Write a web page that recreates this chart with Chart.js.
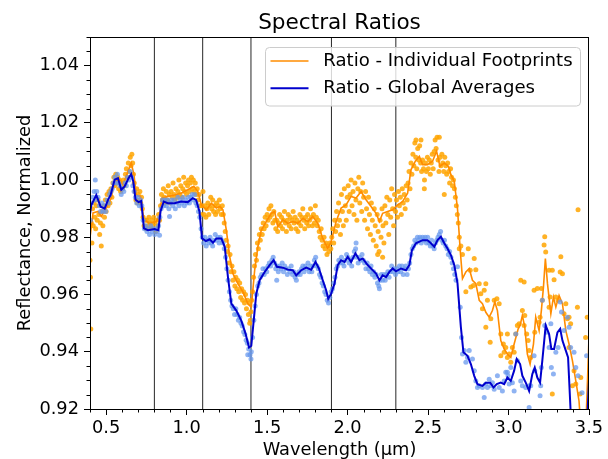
<!DOCTYPE html>
<html><head><meta charset="utf-8">
<script src="https://cdn.jsdelivr.net/npm/chart.js@4/dist/chart.umd.min.js"></script>
<style>html,body{margin:0;padding:0;background:#fff}canvas{display:block}</style>
</head><body>
<canvas id="c" width="608" height="459"></canvas>
<script>
const titleText = 'Spectral Ratios';
const xLabel = 'Wavelength (μm)';
const yLabel = 'Reflectance, Normalized';
const seriesNames = ['Ratio - Individual Footprints', 'Ratio - Global Averages'];
const xTicks = [0.5, 1.0, 1.5, 2.0, 2.5, 3.0, 3.5];
const yTicks = [0.92, 0.94, 0.96, 0.98, 1.00, 1.02, 1.04];
const xRange = [0.4, 3.5];
const yRange = [0.92, 1.05];
const bandEdges = [0.8, 1.1, 1.4, 1.9, 2.3];

const orangeLine = [
[0.400,0.980],[0.419,0.9885],[0.450,0.9890],[0.470,0.9873],[0.501,0.9902],[0.532,0.9937],[0.553,0.9995],[0.584,1.0001],[0.605,0.9984],[0.636,1.0030],[0.656,1.0060],[0.673,1.0019],[0.687,0.9948],[0.714,0.9943],[0.735,0.9861],[0.770,0.9849],[0.811,0.9855],[0.832,0.9878],[0.846,0.9937],[0.883,0.9943],[0.925,0.9948],[0.966,0.9954],[1.007,0.9966],[1.045,0.9978],[1.070,0.9960],[1.092,0.9913],[1.123,0.9896],[1.154,0.9919],[1.185,0.9902],[1.206,0.9908],[1.226,0.9896],[1.247,0.9825],[1.268,0.9732],[1.288,0.9673],[1.319,0.9638],[1.350,0.9609],[1.381,0.9568],[1.402,0.9556],[1.423,0.9685],[1.443,0.9767],[1.464,0.9825],[1.495,0.9855],[1.526,0.9884],[1.547,0.9890],[1.567,0.9837],[1.598,0.9861],[1.629,0.9849],[1.660,0.9855],[1.691,0.9849],[1.722,0.9866],[1.753,0.9855],[1.784,0.9873],[1.815,0.9849],[1.846,0.9796],[1.877,0.9761],[1.898,0.9785],[1.929,0.9855],[1.960,0.9902],[1.991,0.9913],[2.022,0.9943],[2.053,0.9937],[2.084,0.9960],[2.115,0.9931],[2.146,0.9908],[2.177,0.9884],[2.198,0.9855],[2.218,0.9884],[2.249,0.9890],[2.280,0.9896],[2.311,0.9913],[2.342,0.9925],[2.373,0.9954],[2.394,1.0036],[2.421,1.0066],[2.446,1.0083],[2.466,1.0054],[2.497,1.0054],[2.528,1.0066],[2.553,1.0101],[2.574,1.0048],[2.601,1.0060],[2.627,1.0048],[2.642,1.0019],[2.663,0.9995],[2.683,0.9900],[2.700,0.9755],[2.714,0.9656],[2.735,0.9679],[2.756,0.9691],[2.776,0.9650],[2.797,0.9638],[2.818,0.9580],[2.838,0.9568],[2.859,0.9538],[2.880,0.9521],[2.900,0.9544],[2.915,0.9574],[2.931,0.9544],[2.952,0.9439],[2.973,0.9410],[2.993,0.9392],[3.014,0.9380],[3.035,0.9427],[3.060,0.9480],[3.072,0.9492],[3.086,0.9527],[3.101,0.9486],[3.117,0.9392],[3.134,0.9357],[3.155,0.9427],[3.169,0.9521],[3.190,0.9474],[3.204,0.9544],[3.217,0.9626],[3.229,0.9726],[3.242,0.9638],[3.263,0.9533],[3.279,0.9591],[3.294,0.9556],[3.314,0.9597],[3.335,0.9568],[3.356,0.9474],[3.376,0.9427],[3.397,0.9369],[3.418,0.9298],[3.438,0.9228],[3.460,0.905],[3.475,0.905],[3.500,0.945]
];

const blueLine = [
[0.400,0.988],[0.408,0.9913],[0.439,0.9948],[0.466,0.9907],[0.491,0.9900],[0.512,0.9931],[0.528,0.9948],[0.553,1.0001],[0.574,1.0007],[0.594,0.9966],[0.615,0.9978],[0.640,1.0007],[0.656,1.0021],[0.669,0.9995],[0.683,0.9931],[0.702,0.9923],[0.718,0.9927],[0.735,0.9831],[0.760,0.9825],[0.800,0.9829],[0.825,0.9825],[0.838,0.9890],[0.858,0.9925],[0.883,0.9919],[0.925,0.9919],[0.966,0.9925],[1.007,0.9923],[1.038,0.9937],[1.059,0.9931],[1.080,0.9890],[1.096,0.9796],[1.120,0.9787],[1.144,0.9793],[1.164,0.9781],[1.185,0.9796],[1.216,0.9796],[1.237,0.9767],[1.257,0.9661],[1.278,0.9568],[1.309,0.9544],[1.340,0.9509],[1.367,0.9462],[1.388,0.9415],[1.402,0.9421],[1.417,0.9509],[1.433,0.9603],[1.454,0.9650],[1.485,0.9679],[1.516,0.9703],[1.541,0.9720],[1.561,0.9697],[1.598,0.9694],[1.629,0.9687],[1.660,0.9685],[1.681,0.9667],[1.712,0.9685],[1.743,0.9694],[1.774,0.9687],[1.801,0.9714],[1.822,0.9691],[1.846,0.9650],[1.867,0.9615],[1.880,0.9585],[1.898,0.9603],[1.919,0.9638],[1.939,0.9703],[1.960,0.9720],[1.981,0.9714],[2.001,0.9732],[2.022,0.9714],[2.049,0.9744],[2.074,0.9720],[2.094,0.9726],[2.125,0.9703],[2.146,0.9691],[2.177,0.9673],[2.198,0.9650],[2.218,0.9667],[2.239,0.9661],[2.260,0.9679],[2.280,0.9691],[2.301,0.9681],[2.332,0.9691],[2.363,0.9685],[2.384,0.9703],[2.400,0.9755],[2.425,0.9779],[2.466,0.9790],[2.497,0.9790],[2.518,0.9779],[2.539,0.9767],[2.559,0.9790],[2.580,0.9802],[2.601,0.9779],[2.621,0.9761],[2.642,0.9738],[2.663,0.9703],[2.683,0.9640],[2.704,0.9486],[2.720,0.9398],[2.745,0.9386],[2.766,0.9357],[2.787,0.9316],[2.807,0.9287],[2.838,0.9281],[2.859,0.9292],[2.886,0.9292],[2.907,0.9275],[2.927,0.9287],[2.952,0.9292],[2.973,0.9287],[2.993,0.9310],[3.014,0.9298],[3.035,0.9334],[3.051,0.9375],[3.072,0.9357],[3.086,0.9316],[3.107,0.9292],[3.128,0.9263],[3.148,0.9322],[3.163,0.9345],[3.179,0.9310],[3.196,0.9292],[3.210,0.9369],[3.231,0.9492],[3.252,0.9462],[3.266,0.9410],[3.283,0.9410],[3.304,0.9468],[3.321,0.9480],[3.335,0.9439],[3.356,0.9404],[3.370,0.9380],[3.386,0.919],[3.400,0.905],[3.480,0.905],[3.500,0.930]
];

const orangeDots = [
[0.400,0.972],[0.403,0.966],[0.405,0.948],[0.408,0.985],[0.412,0.978],[0.416,0.990],[0.420,0.984],[0.425,0.992],[0.430,0.987],[0.435,0.983],[0.440,0.991],[0.445,0.986],[0.450,0.993],[0.455,0.988],[0.460,0.981],[0.465,0.985],[0.470,0.977],[0.475,0.989],[0.480,0.984],[0.485,0.991],[0.490,0.987],[0.495,0.993],[0.500,0.989],[0.506,0.995],[0.512,0.991],[0.518,0.996],[0.524,0.992],[0.530,0.997],[0.536,0.994],[0.542,0.999],[0.548,1.001],[0.554,0.998],[0.560,1.002],[0.566,0.999],[0.572,1.001],[0.578,0.997],[0.584,1.000],[0.590,0.996],[0.596,0.999],[0.602,0.997],[0.608,1.000],[0.614,0.998],[0.620,1.002],[0.626,1.004],[0.632,1.001],[0.638,1.006],[0.644,1.003],[0.650,1.008],[0.655,1.005],[0.660,1.009],[0.665,1.006],[0.670,1.002],[0.675,0.999],[0.680,0.996],[0.685,0.993],[0.690,0.997],[0.695,0.992],[0.700,0.995],[0.705,0.993],[0.710,0.996],[0.715,0.992],[0.720,0.994],[0.725,0.990],
[0.730,0.987],[0.736,0.984],[0.742,0.986],[0.748,0.983],[0.754,0.986],[0.760,0.984],[0.766,0.987],[0.772,0.985],[0.778,0.983],[0.784,0.986],[0.790,0.984],[0.796,0.987],[0.802,0.985],[0.808,0.982],[0.814,0.986],[0.820,0.984],[0.826,0.988],[0.832,0.986],[0.838,0.991],[0.844,0.995],[0.850,0.993],[0.856,0.997],[0.862,0.994],[0.868,0.992],[0.874,0.996],[0.880,0.993],[0.886,0.998],[0.892,0.995],[0.898,0.992],[0.904,0.996],[0.910,0.994],[0.916,0.999],[0.922,0.995],[0.928,0.993],[0.934,0.997],[0.940,0.994],[0.946,0.996],[0.952,1.000],[0.958,0.995],[0.964,0.998],[0.970,0.994],[0.976,0.997],[0.982,1.001],[0.988,0.996],[0.994,0.999],[1.000,0.995],[1.006,0.998],[1.012,1.000],[1.018,0.996],[1.024,0.999],[1.030,1.001],[1.036,0.997],[1.042,1.000],[1.048,0.996],[1.054,0.999],[1.060,0.995],[1.066,0.997],[1.072,0.993],[1.078,0.995],[1.084,0.991],[1.090,0.988],[1.096,0.991],[1.102,0.996],[1.108,0.988],[1.114,0.991],[1.120,0.987],[1.126,0.990],[1.132,0.992],[1.138,0.988],[1.144,0.991],[1.150,0.994],[1.156,0.990],[1.162,0.993],[1.168,0.989],[1.174,0.991],[1.180,0.988],[1.186,0.992],[1.192,0.989],[1.198,0.991],[1.204,0.993],[1.210,0.990],[1.216,0.988],[1.222,0.991],[1.228,0.988],[1.234,0.985],[1.240,0.982],
[1.246,0.979],[1.252,0.975],[1.258,0.977],[1.264,0.971],[1.270,0.974],[1.276,0.968],[1.282,0.970],[1.288,0.965],[1.294,0.968],[1.300,0.963],[1.306,0.966],[1.312,0.962],[1.318,0.965],[1.324,0.961],[1.330,0.964],[1.336,0.959],[1.342,0.962],[1.348,0.958],[1.354,0.961],[1.360,0.957],[1.366,0.960],[1.372,0.955],[1.378,0.958],[1.384,0.953],[1.390,0.957],[1.392,0.950],[1.396,0.951],[1.400,0.954],[1.404,0.958],[1.410,0.961],[1.416,0.966],[1.422,0.970],[1.428,0.974],[1.434,0.972],[1.440,0.978],[1.446,0.976],[1.452,0.981],[1.458,0.979],[1.464,0.983],[1.470,0.981],[1.476,0.985],[1.482,0.983],[1.488,0.987],[1.494,0.984],[1.500,0.988],[1.506,0.986],[1.512,0.990],[1.518,0.987],[1.524,0.991],[1.530,0.988],[1.536,0.985],[1.542,0.989],[1.548,0.986],[1.554,0.983],[1.560,0.986],[1.566,0.982],[1.572,0.985],[1.578,0.988],[1.584,0.984],[1.590,0.987],[1.596,0.983],[1.602,0.986],[1.608,0.989],[1.614,0.985],[1.620,0.982],[1.626,0.986],[1.632,0.988],[1.638,0.984],[1.644,0.987],[1.650,0.983],[1.656,0.986],[1.662,0.989],[1.668,0.985],[1.674,0.987],[1.680,0.983],[1.686,0.986],[1.692,0.982],[1.698,0.985],[1.704,0.988],[1.710,0.984],[1.716,0.987],[1.722,0.990],[1.728,0.986],[1.734,0.983],[1.740,0.987],[1.746,0.985],[1.752,0.988],[1.758,0.984],[1.764,0.986],[1.770,0.990],[1.776,0.987],[1.782,0.984],[1.788,0.988],[1.794,0.985],[1.800,0.991],[1.806,0.987],[1.812,0.984],[1.818,0.986],[1.824,0.982],[1.830,0.980],[1.836,0.983],[1.842,0.979],[1.848,0.977],[1.854,0.980],[1.860,0.976],[1.866,0.978],[1.872,0.974],[1.878,0.977],[1.884,0.975],[1.890,0.978],[1.896,0.976],
[1.902,0.980],[1.908,0.983],[1.914,0.978],[1.920,0.986],[1.926,0.982],[1.932,0.989],[1.938,0.984],[1.944,0.992],[1.950,0.986],[1.956,0.981],[1.962,0.995],[1.968,0.989],[1.974,0.984],[1.980,0.997],[1.986,0.991],[1.992,0.986],[1.998,0.994],[2.004,0.998],[2.010,0.989],[2.016,0.995],[2.022,1.000],[2.028,0.991],[2.034,0.996],[2.040,0.988],[2.046,0.999],[2.052,0.993],[2.058,0.986],[2.064,0.997],[2.070,1.001],[2.076,0.992],[2.082,0.996],[2.088,0.989],[2.094,0.999],[2.100,0.994],[2.106,0.986],[2.112,0.996],[2.118,0.990],[2.124,0.983],[2.130,0.994],[2.136,0.988],[2.142,0.981],[2.148,0.992],[2.154,0.986],[2.160,0.979],[2.166,0.990],[2.172,0.984],[2.178,0.977],[2.184,0.988],[2.187,0.974],[2.190,0.982],[2.196,0.975],[2.202,0.986],[2.208,0.980],[2.214,0.990],[2.218,0.973],[2.220,0.984],[2.226,0.978],[2.232,0.991],[2.238,0.985],[2.244,0.994],[2.250,0.988],[2.256,0.981],[2.262,0.993],[2.268,0.987],[2.274,0.997],[2.280,0.990],[2.286,0.984],[2.292,0.995],[2.298,0.989],[2.304,0.993],[2.310,0.987],[2.316,0.996],[2.322,0.991],[2.328,0.994],[2.334,0.988],[2.340,0.997],[2.346,0.992],[2.352,0.995],[2.358,0.990],[2.364,0.998],[2.370,0.993],[2.376,0.999],[2.382,1.003],[2.388,0.997],[2.394,1.006],[2.400,1.002],[2.406,1.009],[2.412,1.005],[2.418,1.013],[2.424,1.008],[2.425,1.014],[2.430,1.004],[2.436,1.011],[2.442,1.007],[2.448,1.012],[2.454,1.006],[2.456,1.014],[2.460,1.003],[2.466,1.007],[2.472,1.004],[2.477,0.997],[2.478,1.000],[2.484,1.006],[2.490,1.003],[2.496,1.008],[2.502,1.004],[2.508,1.007],[2.514,1.002],[2.520,1.006],[2.526,1.009],[2.532,1.004],[2.538,1.010],[2.544,1.014],[2.550,1.011],[2.556,1.015],[2.562,1.007],[2.568,1.003],[2.570,1.015],[2.574,1.008],[2.580,1.005],[2.586,1.009],[2.592,1.006],[2.598,1.003],[2.601,0.995],[2.604,1.008],[2.610,1.005],[2.616,1.002],[2.622,1.006],[2.628,1.003],[2.634,0.999],[2.640,1.004],[2.646,1.001],[2.652,0.998],[2.658,1.000],[2.664,0.997],[2.670,0.994],[2.676,0.991],[2.682,0.988],[2.688,0.985],[2.694,0.980],
[2.694,0.976],[2.704,0.977],[2.714,0.974],[2.750,0.976],[2.735,0.961],[2.762,0.9685],[2.787,0.9726],[2.797,0.9687],[2.766,0.9626],[2.782,0.9632],[2.818,0.9638],[2.828,0.9603],[2.849,0.9615],[2.859,0.9638],[2.869,0.958],[2.838,0.955],[2.859,0.9486],[2.886,0.9433],[2.890,0.9515],[2.911,0.958],[2.928,0.9585],[2.942,0.9568],[2.952,0.9462],[2.968,0.9427],[2.983,0.9415],[2.993,0.9462],[3.004,0.9392],[3.024,0.9415],[3.045,0.9462],[3.055,0.9492],[3.066,0.9498],[3.086,0.9544],[3.101,0.9527],[3.113,0.9462],[3.076,0.965],[3.097,0.9644],[3.128,0.9404],[3.138,0.938],[3.159,0.9615],[3.179,0.9621],[3.163,0.9468],[3.190,0.9503],[3.204,0.9621],[3.221,0.9773],[3.225,0.9802],[3.231,0.9749],[3.252,0.9685],[3.272,0.9685],[3.283,0.9652],[3.258,0.9591],[3.325,0.9732],[3.321,0.9679],[3.335,0.9673],[3.345,0.9533],[3.366,0.9515],[3.376,0.9521],[3.428,0.9556],[3.432,0.9896],[3.407,0.9334],[3.397,0.9281],[3.418,0.9287],[3.449,0.931],[3.272,0.9252],[3.444,0.9252],[3.489,0.9521],[3.479,0.945],[2.993,0.938],[2.952,0.9386],[2.973,0.9398],[3.014,0.9363],[3.035,0.9398],[3.097,0.9492],[3.122,0.9439],[3.196,0.9521],[3.210,0.958],[3.252,0.9556],[3.294,0.9591],[3.308,0.958],[3.356,0.9568],[3.386,0.9498],[3.376,0.9415]
];

const blueDots = [
[0.402,0.986],[0.410,0.992],[0.418,0.994],[0.426,0.996],[0.433,1.000],[0.434,0.993],[0.442,0.996],[0.450,0.994],[0.458,0.991],[0.466,0.989],[0.474,0.992],[0.482,0.989],[0.490,0.991],[0.498,0.989],[0.506,0.993],[0.514,0.992],[0.522,0.995],[0.530,0.996],[0.538,0.997],[0.546,0.999],[0.554,1.001],[0.562,0.999],[0.570,1.002],[0.578,0.999],[0.586,0.998],[0.594,0.995],[0.602,0.997],[0.610,0.996],[0.618,0.999],[0.626,0.998],[0.634,1.001],[0.642,1.000],[0.650,1.003],[0.658,1.001],[0.666,0.998],[0.674,0.996],[0.682,0.994],[0.690,0.992],[0.698,0.994],[0.706,0.991],[0.714,0.993],[0.722,0.991],[0.730,0.986],[0.738,0.983],[0.746,0.984],[0.754,0.982],[0.762,0.983],[0.770,0.981],[0.778,0.984],[0.786,0.982],[0.794,0.983],[0.802,0.981],[0.810,0.983],[0.818,0.982],[0.826,0.984],[0.832,0.9807],[0.834,0.987],[0.842,0.990],[0.850,0.993],[0.858,0.991],[0.866,0.993],[0.874,0.991],[0.882,0.993],[0.890,0.990],[0.894,0.9873],[0.898,0.992],[0.906,0.993],[0.914,0.991],[0.922,0.993],[0.930,0.990],[0.938,0.992],[0.946,0.994],[0.954,0.991],[0.962,0.993],[0.970,0.992],[0.978,0.994],[0.986,0.991],[0.994,0.993],[1.002,0.992],[1.010,0.994],[1.018,0.992],[1.026,0.994],[1.034,0.995],[1.042,0.993],[1.050,0.995],[1.058,0.992],[1.066,0.991],[1.074,0.989],[1.082,0.987],[1.090,0.983],[1.098,0.980],
[1.106,0.978],[1.114,0.980],[1.122,0.977],[1.130,0.979],[1.138,0.978],[1.146,0.980],[1.154,0.978],[1.162,0.977],[1.170,0.979],[1.178,0.981],[1.186,0.979],[1.194,0.980],[1.202,0.978],[1.210,0.980],[1.218,0.979],[1.226,0.978],[1.234,0.976],[1.242,0.973],[1.250,0.969],[1.258,0.965],[1.266,0.961],[1.274,0.958],[1.282,0.956],[1.290,0.955],[1.298,0.953],[1.306,0.955],[1.314,0.953],[1.322,0.951],[1.330,0.952],[1.338,0.950],[1.346,0.949],[1.354,0.947],[1.362,0.946],[1.370,0.944],[1.378,0.943],[1.380,0.939],[1.386,0.941],[1.394,0.939],[1.400,0.9375],[1.402,0.940],[1.410,0.945],[1.418,0.951],[1.426,0.956],[1.434,0.960],[1.442,0.963],[1.450,0.964],[1.458,0.966],[1.466,0.967],[1.474,0.969],[1.482,0.967],[1.490,0.969],[1.498,0.968],[1.506,0.970],[1.514,0.971],[1.522,0.970],[1.530,0.972],[1.538,0.973],[1.546,0.971],[1.554,0.969],[1.560,0.965],[1.562,0.970],[1.570,0.968],[1.578,0.970],[1.586,0.969],[1.594,0.971],[1.602,0.968],[1.610,0.970],[1.618,0.969],[1.626,0.967],[1.634,0.969],[1.642,0.968],[1.650,0.970],[1.658,0.967],[1.666,0.968],[1.674,0.966],[1.682,0.965],[1.690,0.967],[1.698,0.968],[1.706,0.967],[1.714,0.969],[1.722,0.970],[1.730,0.968],[1.738,0.970],[1.746,0.969],[1.754,0.971],[1.762,0.968],[1.770,0.970],[1.778,0.968],[1.786,0.970],[1.794,0.972],[1.802,0.973],[1.810,0.970],[1.818,0.969],[1.826,0.967],[1.834,0.966],[1.842,0.964],[1.850,0.963],[1.858,0.961],[1.866,0.960],[1.874,0.958],[1.882,0.957],[1.890,0.959],[1.898,0.961],
[1.906,0.962],[1.914,0.964],[1.922,0.966],[1.930,0.969],[1.938,0.970],[1.946,0.972],[1.954,0.971],[1.962,0.973],[1.970,0.971],[1.978,0.970],[1.986,0.972],[1.994,0.974],[2.002,0.973],[2.010,0.971],[2.018,0.972],[2.026,0.970],[2.034,0.973],[2.042,0.975],[2.050,0.976],[2.053,0.978],[2.058,0.973],[2.066,0.971],[2.074,0.973],[2.082,0.972],[2.090,0.974],[2.098,0.972],[2.106,0.971],[2.114,0.969],[2.122,0.971],[2.130,0.969],[2.138,0.968],[2.146,0.970],[2.154,0.967],[2.162,0.968],[2.170,0.966],[2.178,0.967],[2.186,0.964],[2.194,0.963],[2.198,0.962],[2.202,0.965],[2.210,0.967],[2.218,0.965],[2.226,0.967],[2.234,0.965],[2.242,0.967],[2.250,0.968],[2.258,0.966],[2.266,0.968],[2.274,0.970],[2.282,0.968],[2.290,0.969],[2.298,0.967],[2.306,0.969],[2.314,0.968],[2.322,0.970],[2.330,0.968],[2.338,0.970],[2.346,0.967],[2.354,0.969],[2.362,0.970],[2.370,0.967],[2.378,0.969],[2.386,0.971],[2.394,0.974],[2.402,0.976],[2.410,0.977],[2.418,0.979],[2.426,0.978],[2.434,0.980],[2.442,0.979],[2.450,0.980],[2.458,0.978],[2.466,0.980],[2.474,0.979],[2.482,0.980],[2.490,0.978],[2.498,0.980],[2.506,0.978],[2.514,0.977],[2.522,0.979],[2.530,0.977],[2.538,0.976],[2.546,0.978],[2.554,0.979],[2.562,0.980],[2.570,0.981],[2.578,0.982],[2.586,0.979],[2.594,0.978],[2.602,0.979],[2.610,0.977],[2.618,0.976],[2.626,0.974],[2.634,0.975],[2.642,0.973],[2.650,0.971],[2.658,0.969],[2.666,0.967],[2.674,0.965],
[2.683,0.9697],[2.700,0.9556],[2.708,0.945],[2.714,0.9392],[2.725,0.9404],[2.735,0.9363],[2.745,0.938],[2.756,0.9404],[2.776,0.9375],[2.787,0.9334],[2.797,0.9298],[2.807,0.9275],[2.818,0.9281],[2.838,0.9275],[2.849,0.924],[2.859,0.9287],[2.869,0.9275],[2.880,0.9304],[2.890,0.9281],[2.900,0.9292],[2.911,0.9269],[2.931,0.9316],[2.942,0.9275],[2.962,0.9263],[2.973,0.9298],[2.983,0.9328],[2.993,0.9328],[2.997,0.9316],[3.004,0.9287],[3.014,0.9345],[3.024,0.9292],[3.035,0.9263],[3.045,0.9462],[3.055,0.9369],[3.076,0.9298],[3.086,0.9281],[3.107,0.9275],[3.128,0.9205],[3.128,0.9281],[3.138,0.9281],[3.159,0.9386],[3.163,0.9334],[3.196,0.9246],[3.200,0.9281],[3.204,0.9345],[3.210,0.958],[3.225,0.9492],[3.237,0.9468],[3.252,0.9415],[3.263,0.9498],[3.266,0.9345],[3.279,0.9322],[3.294,0.9398],[3.308,0.9415],[3.321,0.9574],[3.329,0.9539],[3.345,0.9474],[3.366,0.9521],[3.376,0.9486],[3.386,0.9415],[3.407,0.9398],[3.418,0.9345],[3.432,0.9316],[3.457,0.9257],[3.485,0.9386]
];

const toXY = arr => arr.map(p => ({x: p[0], y: p[1]}));

const FONT = '"DejaVu Sans", sans-serif';
const COLORS = {
  orangeLine: '#ff8c00', orangeDot: 'rgba(255,165,0,0.85)',
  blueLine: '#0000cd', blueDot: 'rgba(100,149,237,0.72)'
};

const decor = {
  id: 'decor',
  beforeDraw(chart) {
    const c = chart.ctx;
    c.save(); c.fillStyle = '#fff'; c.fillRect(0, 0, chart.width, chart.height); c.restore();
  },
  beforeDatasetsDraw(chart) {
    const c = chart.ctx, a = chart.chartArea, xs = chart.scales.x;
    c.save();
    c.strokeStyle = 'rgba(0,0,0,0.85)'; c.lineWidth = 1;
    bandEdges.forEach(v => {
      const px = xs.getPixelForValue(v);
      c.beginPath(); c.moveTo(px, a.top); c.lineTo(px, a.bottom); c.stroke();
    });
    c.restore();
  },
  afterDraw(chart) {
    const c = chart.ctx, a = chart.chartArea, xs = chart.scales.x, ys = chart.scales.y;
    c.save();
    c.strokeStyle = '#000'; c.lineWidth = 1;
    c.strokeRect(a.left + 0.5, a.top + 0.5, a.right - a.left - 1, a.bottom - a.top);
    c.beginPath();
    for (let i = 4; i <= 35; i++) {
      if (i % 5 === 0) continue;
      const px = Math.round(xs.getPixelForValue(i / 10)) + 0.5;
      c.moveTo(px, a.bottom); c.lineTo(px, a.bottom + 3.5);
    }
    for (let i = 184; i <= 210; i++) {
      if (i % 4 === 0) continue;
      const py = Math.round(ys.getPixelForValue(i / 200)) + 0.5;
      c.moveTo(a.left, py); c.lineTo(a.left - 3.5, py);
    }
    c.stroke();
    c.fillStyle = '#000';
    c.font = '21.6px ' + FONT; c.textAlign = 'center'; c.textBaseline = 'alphabetic';
    c.fillText(titleText, (a.left + a.right) / 2, 28.5);
    c.font = '17.8px ' + FONT;
    c.fillText(xLabel, (a.left + a.right) / 2, 454.5);
    c.save();
    c.translate(29.5, (a.top + a.bottom) / 2); c.rotate(-Math.PI / 2);
    c.fillText(yLabel, 0, 0);
    c.restore();
    const lx = 265.5, ly = 47.5, lw = 315, lh = 58.5, r = 4;
    c.beginPath();
    c.moveTo(lx + r, ly); c.lineTo(lx + lw - r, ly); c.arcTo(lx + lw, ly, lx + lw, ly + r, r);
    c.lineTo(lx + lw, ly + lh - r); c.arcTo(lx + lw, ly + lh, lx + lw - r, ly + lh, r);
    c.lineTo(lx + r, ly + lh); c.arcTo(lx, ly + lh, lx, ly + lh - r, r);
    c.lineTo(lx, ly + r); c.arcTo(lx, ly, lx + r, ly, r); c.closePath();
    c.fillStyle = 'rgba(255,255,255,0.8)'; c.fill();
    c.strokeStyle = '#cccccc'; c.lineWidth = 1; c.stroke();
    const rows = [[seriesNames[0], COLORS.orangeLine, 1.6, 61], [seriesNames[1], COLORS.blueLine, 2, 88.3]];
    rows.forEach(([txt, col, w, y]) => {
      c.strokeStyle = col; c.lineWidth = w;
      c.beginPath(); c.moveTo(270.5, y); c.lineTo(308.5, y); c.stroke();
      c.fillStyle = '#000'; c.font = '18.1px ' + FONT; c.textAlign = 'left'; c.textBaseline = 'middle';
      c.fillText(txt, 323.3, y);
    });
    c.restore();
  }
};

const tickFont = {family: FONT, size: 17.8};

new Chart(document.getElementById('c'), {
  type: 'scatter',
  data: {
    datasets: [
      {label: seriesNames[1], data: toXY(blueLine), showLine: true, borderColor: COLORS.blueLine, borderWidth: 2, pointRadius: 0, fill: false, clip: 0},
      {label: seriesNames[1] + ' points', data: toXY(blueDots), showLine: false, backgroundColor: COLORS.blueDot, borderWidth: 0, pointRadius: 2.5, clip: 0},
      {label: seriesNames[0], data: toXY(orangeLine), showLine: true, borderColor: COLORS.orangeLine, borderWidth: 1.6, pointRadius: 0, fill: false, clip: 0},
      {label: seriesNames[0] + ' points', data: toXY(orangeDots), showLine: false, backgroundColor: COLORS.orangeDot, borderWidth: 0, pointRadius: 2.5, clip: 0}
    ]
  },
  options: {
    responsive: false, animation: false, devicePixelRatio: 1,
    layout: {padding: {top: 37, right: 19, left: 0, bottom: 0}},
    elements: {line: {tension: 0}},
    plugins: {legend: {display: false}, tooltip: {enabled: false}, title: {display: false}},
    scales: {
      x: {
        type: 'linear', min: xRange[0], max: xRange[1],
        afterBuildTicks: s => { s.ticks = xTicks.map(v => ({value: v})); },
        afterFit: s => { s.height = 50; },
        ticks: {callback: v => v.toFixed(1), font: tickFont, color: '#000', padding: 3, maxRotation: 0, autoSkip: false},
        grid: {drawOnChartArea: false, drawTicks: true, tickLength: 6, tickColor: '#000', tickWidth: 1},
        border: {display: false}
      },
      y: {
        type: 'linear', min: yRange[0], max: yRange[1],
        afterBuildTicks: s => { s.ticks = yTicks.map(v => ({value: v})); },
        afterFit: s => { s.width = 90; },
        ticks: {callback: v => v.toFixed(2), font: tickFont, color: '#000', padding: 5, autoSkip: false},
        grid: {drawOnChartArea: false, drawTicks: true, tickLength: 6, tickColor: '#000', tickWidth: 1},
        border: {display: false}
      }
    }
  },
  plugins: [decor]
});
</script>
</body></html>
